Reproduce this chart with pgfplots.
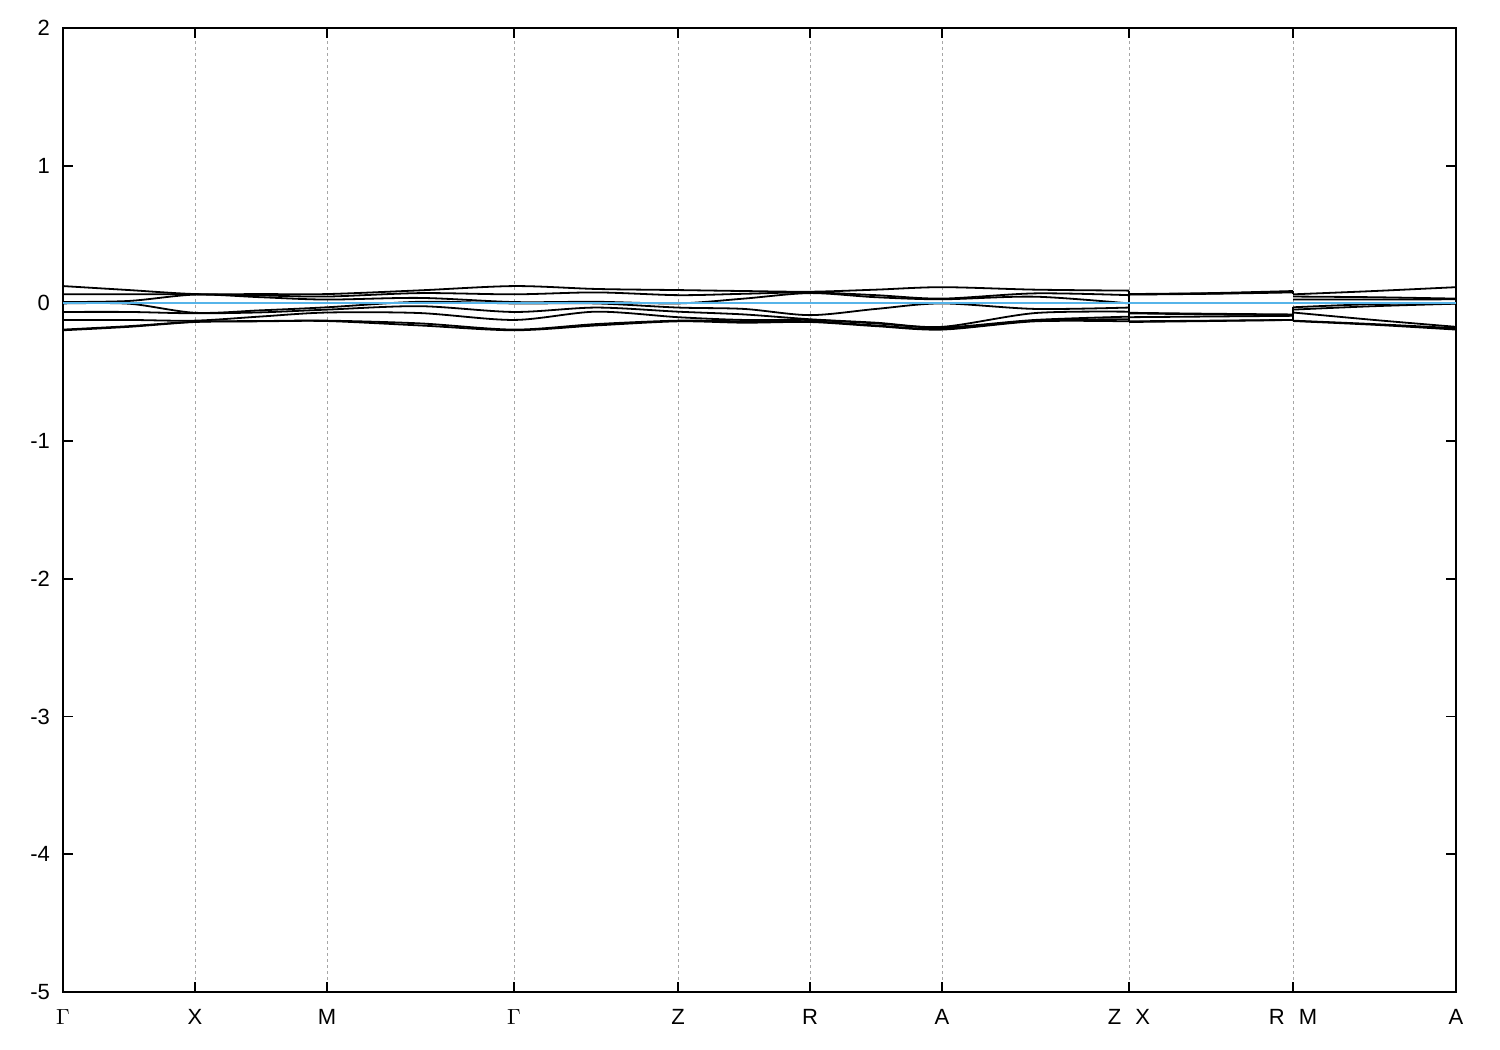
\documentclass[border=0pt]{standalone}
\usepackage{fontspec}
\setmainfont{Liberation Sans}
\usepackage{pgfplots}
\usepackage{pgfplotstable}
\pgfplotsset{compat=1.18}
\definecolor{fermi}{HTML}{56B4E9}

% Segment 1: Gamma - X - M - Gamma - Z - R - A - Z
\pgfplotstableread{
x     b1     b2     b3     b4     b5     b6     b7     b8
0     0.126  0.066  0.010  0.000  -0.062 -0.120 -0.190 -0.195
66    0.097  0.066  0.018  -0.002 -0.062 -0.120 -0.165 -0.170
132   0.068  0.066  0.064  -0.068 -0.072 -0.125 -0.133 -0.135
198   0.068  0.058  0.045  -0.050 -0.065 -0.095 -0.128 -0.130
264   0.068  0.050  0.028  -0.028 -0.045 -0.066 -0.125 -0.128
357   0.095  0.075  0.040  0.012  -0.020 -0.070 -0.145 -0.160
451   0.126  0.066  0.010  0.000  -0.062 -0.120 -0.190 -0.195
533   0.105  0.080  0.012  0.000  -0.030 -0.060 -0.150 -0.160
615   0.097  0.060  0.000  -0.030 -0.060 -0.100 -0.125 -0.130
681   0.090  0.070  0.035  -0.040 -0.080 -0.120 -0.130 -0.140
747   0.085  0.080  0.075  -0.085 -0.115 -0.120 -0.130 -0.135
813   0.100  0.060  0.045  -0.040 -0.140 -0.145 -0.160 -0.165
879   0.118  0.035  0.030  0.000  -0.170 -0.175 -0.185 -0.190
972   0.100  0.073  0.049  -0.040 -0.070 -0.120 -0.125 -0.130
1066  0.093  0.060  0.000  -0.030 -0.060 -0.096 -0.115 -0.130
}\segone

% Segment 2: X - R
\pgfplotstableread{
x     b1     b2     b3     b4     b5     b6     b7     b8
1066  0.068  0.066  0.064  -0.068 -0.072 -0.100 -0.130 -0.135
1148  0.075  0.072  0.070  -0.075 -0.080 -0.095 -0.125 -0.128
1230  0.090  0.085  0.080  -0.080 -0.085 -0.090 -0.120 -0.120
}\segtwo

% Segment 3: M - A
\pgfplotstableread{
x     b1     b2     b3     b4     b5     b6     b7     b8
1230  0.066  0.050  0.028  -0.028 -0.045 -0.066 -0.125 -0.128
1311  0.090  0.045  0.028  -0.005 -0.020 -0.120 -0.150 -0.155
1393  0.118  0.035  0.030  0.000  -0.002 -0.170 -0.180 -0.190
}\segthree

\begin{document}
\begin{tikzpicture}
\begin{axis}[
  scale only axis,
  width=696.5pt, height=482pt,
  xmin=0, xmax=1393, ymin=-5, ymax=2,
  xtick={0,132,264,451,615,747,879,1066,1230,1393},
  xticklabels={$\Gamma$,X,M,$\Gamma$,Z,R,A,Z\hspace{7pt}X,R\hspace{7pt}M,A},
  ytick={-5,-4,-3,-2,-1,0,1,2},
  yticklabels={-5,-4,-3,-2,-1,0,1,2},
  xmajorgrids,
  major x grid style={gray!70, line width=0.5pt, dash pattern=on 1.5pt off 1.5pt},
  tick align=inside,
  major tick length=5pt,
  axis line style={line width=1pt},
  every tick/.style={black, line width=0.8pt},
  tick label style={font=\fontsize{11}{13}\selectfont},
  xticklabel style={yshift=-5pt},
  yticklabel style={xshift=-3pt},
  band/.style={black, line width=0.9pt, smooth, tension=0.5, no markers},
]
\pgfplotsinvokeforeach{b1,b2,b3,b4,b5,b6,b7,b8}{
  \addplot[band] table[x=x, y=#1] {\segone};
  \addplot[band] table[x=x, y=#1] {\segtwo};
  \addplot[band] table[x=x, y=#1] {\segthree};
}
% discontinuities at Z|X and R|M
\addplot[black, line width=0.9pt, no markers] coordinates {(1066,0.093) (1066,-0.135)};
\addplot[black, line width=0.9pt, no markers] coordinates {(1230,0.090) (1230,0.066)};
\addplot[black, line width=0.9pt, no markers] coordinates {(1230,-0.028) (1230,-0.128)};
% Fermi level
\addplot[fermi, line width=1pt, no markers] coordinates {(0,0) (1393,0)};
\coordinate (bl) at (rel axis cs:0,0);
\coordinate (tr) at (rel axis cs:1,1);
\end{axis}
\pgfresetboundingbox
\path[use as bounding box] ([shift={(-31.5pt,-29pt)}]bl) rectangle ([shift={(22pt,14pt)}]tr);
\end{tikzpicture}
\end{document}
